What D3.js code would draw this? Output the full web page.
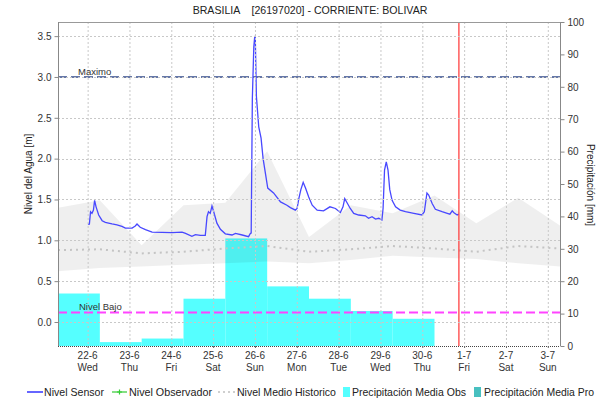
<!DOCTYPE html>
<html><head><meta charset="utf-8">
<script src="https://cdn.jsdelivr.net/npm/d3@7"></script>
<style>
body{margin:0;background:#fff}
svg{display:block;font-family:"Liberation Sans",Arial,sans-serif}
</style>
</head><body>
<svg id="c" width="597" height="401"></svg>
<script>
// ---------- DATA ----------
const titleText = "BRASILIA    [26197020] - CORRIENTE: BOLIVAR";
const leftAxisTitle = "Nivel del Agua [m]";
const rightAxisTitle = "Precipitación [mm]";
const domainStart = "2022-06-21 07:00";
const domainEnd = "2022-07-03 07:00";
const currentTime = "2022-06-30 21:00";

const leftTicks = [0, 0.5, 1.0, 1.5, 2.0, 2.5, 3.0, 3.5];
const rightTicks = [0, 10, 20, 30, 40, 50, 60, 70, 80, 90, 100];

const maximoLevel = 3.0;
const bajoLevel = 0.115;

const precipStart = ["2022-06-21 07:00","2022-06-22 07:00","2022-06-23 07:00","2022-06-24 07:00","2022-06-25 07:00","2022-06-26 07:00","2022-06-27 07:00","2022-06-28 07:00","2022-06-29 07:00"];
const precipValues = [16.2, 1.2, 2.3, 14.6, 33.2, 18.4, 14.6, 10.8, 8.4];

const histTimes = ["2022-06-21 07:00","2022-06-22 07:00","2022-06-23 07:00","2022-06-24 07:00","2022-06-25 07:00","2022-06-26 07:00","2022-06-27 07:00","2022-06-28 07:00","2022-06-29 07:00","2022-06-30 07:00","2022-07-01 07:00","2022-07-02 07:00","2022-07-03 07:00"];
const histUpper = [1.40, 1.49, 0.94, 1.43, 1.46, 2.09, 1.04, 1.43, 1.33, 1.55, 1.21, 1.52, 1.18];
const histLower = [0.62, 0.66, 0.68, 0.70, 0.72, 0.74, 0.72, 0.76, 0.81, 0.79, 0.77, 0.72, 0.68];
const histMedian = [0.88, 0.89, 0.84, 0.86, 0.90, 0.93, 0.86, 0.89, 0.93, 0.90, 0.86, 0.93, 0.90];

const sensorTimes = ["2022-06-22 00:10","2022-06-22 01:00","2022-06-22 01:40","2022-06-22 02:30","2022-06-22 03:20","2022-06-22 04:00","2022-06-22 04:50","2022-06-22 06:20","2022-06-22 08:20","2022-06-22 10:10","2022-06-22 12:00","2022-06-22 14:00","2022-06-22 16:50","2022-06-22 19:40","2022-06-22 21:40",
"2022-06-23 01:30","2022-06-23 03:20","2022-06-23 04:20","2022-06-23 06:10","2022-06-23 09:10","2022-06-23 13:00",
"2022-06-24 00:20","2022-06-24 06:10","2022-06-24 08:10","2022-06-24 11:50","2022-06-24 13:50","2022-06-24 16:40","2022-06-24 19:30","2022-06-24 20:30","2022-06-24 21:20","2022-06-24 22:20","2022-06-24 23:20",
"2022-06-25 00:20","2022-06-25 02:10","2022-06-25 04:10","2022-06-25 07:00","2022-06-25 10:50","2022-06-25 12:50","2022-06-25 16:40","2022-06-25 20:20","2022-06-25 21:20","2022-06-25 21:50","2022-06-25 22:30","2022-06-25 23:20","2022-06-25 23:50",
"2022-06-26 00:10","2022-06-26 00:50","2022-06-26 02:10","2022-06-26 03:30","2022-06-26 04:40","2022-06-26 07:20","2022-06-26 10:40","2022-06-26 14:40","2022-06-26 18:20","2022-06-26 20:20","2022-06-26 23:10",
"2022-06-27 00:10","2022-06-27 01:10","2022-06-27 02:20","2022-06-27 03:40","2022-06-27 05:00","2022-06-27 06:50","2022-06-27 08:50","2022-06-27 11:40","2022-06-27 15:20","2022-06-27 19:00","2022-06-27 22:10",
"2022-06-28 01:00","2022-06-28 02:30","2022-06-28 03:30","2022-06-28 04:50","2022-06-28 06:40","2022-06-28 08:40","2022-06-28 11:30","2022-06-28 15:20","2022-06-28 17:10","2022-06-28 19:10","2022-06-28 21:10","2022-06-28 23:00",
"2022-06-29 00:50","2022-06-29 01:30","2022-06-29 02:20","2022-06-29 03:20","2022-06-29 04:20","2022-06-29 05:20","2022-06-29 06:40","2022-06-29 08:40","2022-06-29 11:20","2022-06-29 14:20","2022-06-29 19:10","2022-06-29 23:50",
"2022-06-30 01:10","2022-06-30 02:40","2022-06-30 03:40","2022-06-30 05:40","2022-06-30 07:30","2022-06-30 11:20","2022-06-30 14:20","2022-06-30 15:50","2022-06-30 17:10","2022-06-30 18:00","2022-06-30 20:00","2022-06-30 20:50"];
const sensorValues = [1.20,1.20,1.35,1.33,1.37,1.49,1.41,1.31,1.24,1.22,1.21,1.20,1.19,1.17,1.15,
1.15,1.175,1.20,1.16,1.13,1.10,
1.095,1.10,1.085,1.05,1.07,1.06,1.06,1.29,1.35,1.33,1.42,
1.35,1.21,1.135,1.08,1.065,1.085,1.065,1.045,1.085,1.09,2.74,3.37,3.49,
3.50,2.76,2.39,2.25,2.00,1.64,1.58,1.47,1.43,1.40,1.37,
1.39,1.51,1.62,1.71,1.64,1.53,1.43,1.37,1.36,1.41,1.39,
1.34,1.41,1.51,1.46,1.39,1.33,1.31,1.30,1.27,1.29,1.26,1.27,
1.25,1.39,1.86,1.96,1.86,1.62,1.49,1.41,1.37,1.35,1.33,1.31,
1.35,1.58,1.555,1.45,1.38,1.35,1.33,1.32,1.36,1.34,1.31,1.32];

const legendLabels = ["Nivel Sensor","Nivel Observador","Nivel Medio Historico","Precipitación Media Obs","Precipitación Media Pro"];

// ---------- CHART ----------
const parse = d3.timeParse("%Y-%m-%d %H:%M");
const svg = d3.select("#c");
const L = 58, R = 560, T = 22, B = 346;

const x = d3.scaleTime().domain([parse(domainStart), parse(domainEnd)]).range([L, R]);
const yL = d3.scaleLinear().domain([-0.294, 3.673]).range([B, T]);
const yR = d3.scaleLinear().domain([0, 100]).range([B, T]);

svg.append("defs").append("clipPath").attr("id","clip")
  .append("rect").attr("x",L).attr("y",T).attr("width",R-L).attr("height",B-T);

// title
svg.append("text").attr("x",310).attr("y",14).attr("text-anchor","middle")
  .style("white-space","pre").attr("font-size",10.6).attr("fill","#222").text(titleText);

const plot = svg.append("g").attr("clip-path","url(#clip)");

// precipitation bars
const oneDay = 24*3600*1000;
plot.selectAll("rect.bar").data(precipValues).enter().append("rect")
  .attr("x",(d,i)=>x(parse(precipStart[i])))
  .attr("width",(d,i)=>x(new Date(+parse(precipStart[i])+oneDay)) - x(parse(precipStart[i])))
  .attr("y",d=>yR(d)).attr("height",d=>yR(0)-yR(d))
  .attr("fill","#55ffff");

// historical band
const histData = histTimes.map((t,i)=>({t:parse(t),u:histUpper[i],l:histLower[i],m:histMedian[i]}));
plot.append("path").datum(histData)
  .attr("d", d3.area().x(d=>x(d.t)).y0(d=>yL(d.l)).y1(d=>yL(d.u)))
  .attr("fill","#000").attr("fill-opacity",0.063);

// gridlines
const days = d3.timeDay.range(d3.timeDay.ceil(x.domain()[0]), x.domain()[1]);
const grid = svg.append("g");
grid.selectAll("line.v").data(days).enter().append("line")
  .attr("x1",d=>x(d)+0.5).attr("x2",d=>x(d)+0.5).attr("y1",T).attr("y2",B)
  .attr("stroke","#c8c8c8").attr("stroke-dasharray","2,2");
grid.selectAll("line.h").data(leftTicks).enter().append("line")
  .attr("x1",L).attr("x2",R).attr("y1",d=>Math.round(yL(d))+0.5).attr("y2",d=>Math.round(yL(d))+0.5)
  .attr("stroke","#c8c8c8").attr("stroke-dasharray","2,2");

// median line
plot.append("path").datum(histData)
  .attr("d", d3.line().x(d=>x(d.t)).y(d=>yL(d.m)))
  .attr("fill","none").attr("stroke","#c4c4c4").attr("stroke-width",2).attr("stroke-dasharray","2,4");

// threshold lines
plot.append("line").attr("x1",L).attr("x2",R).attr("y1",yL(maximoLevel)).attr("y2",yL(maximoLevel))
  .attr("stroke","#6678a8").attr("stroke-width",2).attr("stroke-dasharray","9,4");
svg.append("text").attr("x",78).attr("y",yL(maximoLevel)-2).attr("font-size",9.5).attr("fill","#333").text("Maximo");
plot.append("line").attr("x1",L).attr("x2",R).attr("y1",yL(bajoLevel)).attr("y2",yL(bajoLevel))
  .attr("stroke","#ff44ff").attr("stroke-width",2).attr("stroke-dasharray","9,4");
svg.append("text").attr("x",79).attr("y",yL(bajoLevel)-3).attr("font-size",9.5).attr("fill","#333").text("Nivel Bajo");

// sensor line
const sensorData = sensorTimes.map((t,i)=>({t:parse(t),v:sensorValues[i]}));
plot.append("path").datum(sensorData)
  .attr("d", d3.line().x(d=>x(d.t)).y(d=>yL(d.v)))
  .attr("fill","none").attr("stroke","#4848ff").attr("stroke-width",1.3);

// current time line
const cx = x(parse(currentTime));
plot.append("line").attr("x1",cx).attr("x2",cx).attr("y1",T).attr("y2",B)
  .attr("stroke","#ff3333").attr("stroke-width",1.2);

// frame
svg.append("line").attr("x1",L).attr("x2",R).attr("y1",T+0.5).attr("y2",T+0.5).attr("stroke","#999");

// left axis
const axL = svg.append("g").attr("transform",`translate(${L+0.5},0)`)
  .call(d3.axisLeft(yL).tickValues(leftTicks).tickFormat(d3.format(".1f")).tickSize(4).tickSizeOuter(0));
axL.select(".domain").attr("stroke","#888").attr("d",`M0,${T}V${B}`);
axL.selectAll(".tick line").attr("stroke","#888");
axL.selectAll("text").attr("font-size",10).attr("fill","#333").attr("font-family","Liberation Sans, Arial, sans-serif");

// right axis
const axR = svg.append("g").attr("transform",`translate(${R+0.5},0)`)
  .call(d3.axisRight(yR).tickValues(rightTicks).tickSize(4).tickSizeOuter(0));
axR.select(".domain").attr("stroke","#888").attr("d",`M0,${T}V${B}`);
axR.selectAll(".tick line").attr("stroke","#888");
axR.selectAll("text").attr("font-size",10).attr("fill","#333").attr("font-family","Liberation Sans, Arial, sans-serif");

// bottom axis
svg.append("line").attr("x1",L).attr("x2",R).attr("y1",B+0.5).attr("y2",B+0.5)
  .attr("stroke","#444").attr("stroke-dasharray","1,1");
const axB = svg.append("g").attr("transform",`translate(0,${B})`)
  .call(d3.axisBottom(x).tickValues(days).tickSize(2).tickFormat(""));
axB.select(".domain").remove();
axB.selectAll(".tick line").attr("stroke","#666");
const fmtD = d3.timeFormat("%-d-%-m"), fmtW = d3.timeFormat("%a");
const lab = svg.append("g");
lab.selectAll("text.d").data(days).enter().append("text")
  .attr("x",d=>x(d)).attr("y",359).attr("text-anchor","middle").attr("font-size",10).attr("fill","#333").text(d=>fmtD(d));
lab.selectAll("text.w").data(days).enter().append("text")
  .attr("x",d=>x(d)).attr("y",371).attr("text-anchor","middle").attr("font-size",10).attr("fill","#333").text(d=>fmtW(d));

// axis titles
svg.append("text").attr("transform",`translate(32,174) rotate(-90)`).attr("text-anchor","middle")
  .attr("font-size",10).attr("fill","#222").text(leftAxisTitle);
svg.append("text").attr("transform",`translate(587,185) rotate(90)`).attr("text-anchor","middle")
  .attr("font-size",10).attr("fill","#222").text(rightAxisTitle);

// legend
const lg = svg.append("g").attr("font-size",10.5).attr("fill","#222");
const ly = 392;
const legText = (xx, i, w) => lg.append("text").attr("x",xx).attr("y",ly+4)
  .attr("textLength",w).attr("lengthAdjust","spacingAndGlyphs").text(legendLabels[i]);
lg.append("line").attr("x1",27).attr("x2",43).attr("y1",ly).attr("y2",ly).attr("stroke","#0000ff").attr("stroke-width",1.2);
legText(44, 0, 60);
lg.append("line").attr("x1",112).attr("x2",127).attr("y1",ly).attr("y2",ly).attr("stroke","#33cc33").attr("stroke-width",1.2);
lg.append("path").attr("d",`M117,${ly}h5M119.5,${ly-2.5}v5`).attr("stroke","#33cc33").attr("stroke-width",1.2);
legText(129, 1, 83);
lg.append("line").attr("x1",218).attr("x2",235).attr("y1",ly).attr("y2",ly).attr("stroke","#c0c0c0").attr("stroke-width",1.5).attr("stroke-dasharray","2,3");
legText(237, 2, 99);
lg.append("rect").attr("x",343).attr("y",ly-5).attr("width",7).attr("height",10).attr("fill","#55ffff");
legText(352, 3, 114);
lg.append("rect").attr("x",474).attr("y",ly-5).attr("width",7).attr("height",10).attr("fill","#48c0c0");
legText(484, 4, 110);
</script>
</body></html>
